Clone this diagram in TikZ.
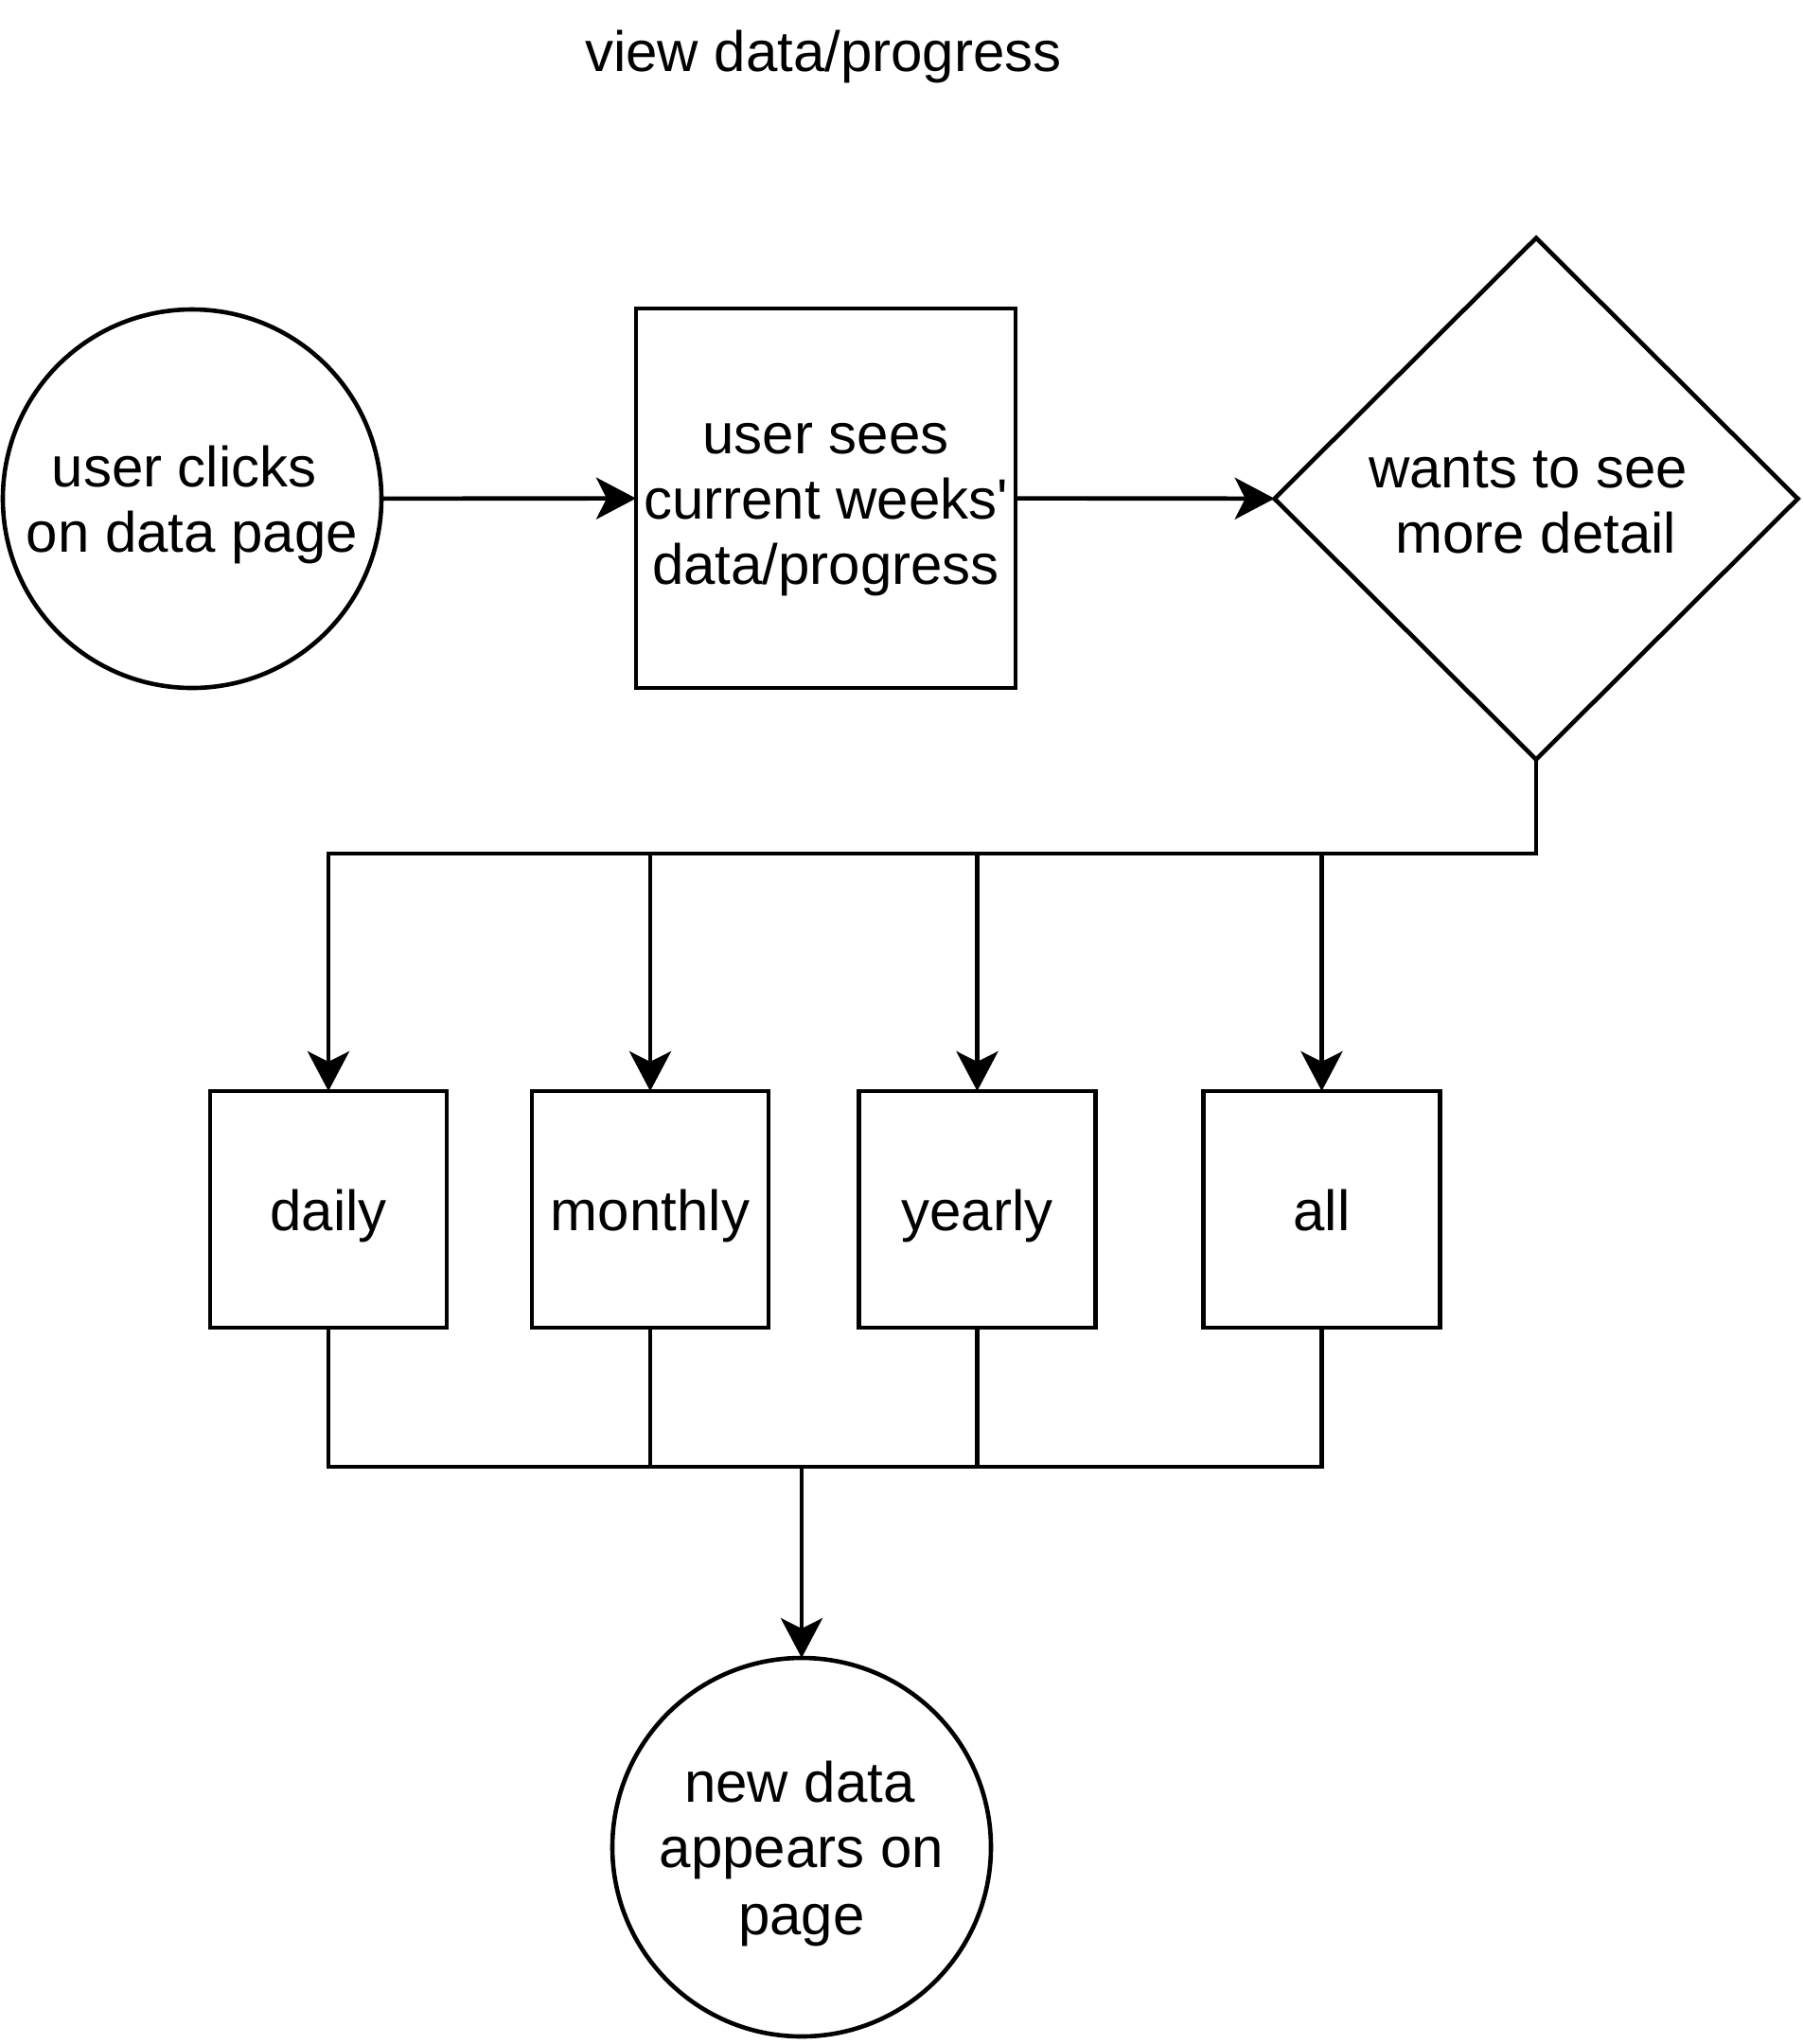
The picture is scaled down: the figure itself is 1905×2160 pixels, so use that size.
\documentclass[tikz,border=0pt]{standalone}
\usepackage{fontspec}
\setmainfont{Liberation Sans}
\usetikzlibrary{arrows.meta,shapes.geometric}
\newcommand{\lnstrut}{\rule[-6pt]{0pt}{34.5pt}}
\begin{document}
\begin{tikzpicture}[x=0.5pt,y=-0.5pt,
  every node/.style={font=\fontsize{30pt}{34.5pt}\selectfont, align=center, inner sep=0pt, outer sep=0pt},
  shp/.style={draw, line width=2.3pt, fill=white},
  roundnode/.style={shp, circle, minimum size=200pt},
  bigbox/.style={shp, rectangle, minimum size=200.5pt},
  smallbox/.style={shp, rectangle, minimum size=125pt},
  decision/.style={shp, diamond, minimum width=276.5pt, minimum height=275.5pt},
  conn/.style={line width=2.3pt},
  arr/.style={conn, -{Stealth[length=21pt, width=22pt, inset=5.5pt]}}]
\useasboundingbox (0,0) rectangle (1905,2160);
\node (title) at (870,53) {\lnstrut view data/progress};
\node[roundnode] (c1) at (203,527) {\lnstrut user clicks\hspace*{8.3pt}\\\lnstrut on data page};
\node[bigbox] (b1) at (872.5,526.5) {\lnstrut user sees\\\lnstrut current weeks\textquotesingle\\\lnstrut data/progress};
\node[decision] (d) at (1623,527) {\lnstrut wants to see\hspace*{8.3pt}\\\lnstrut more detail};
\node[smallbox] (daily) at (347,1278) {\lnstrut daily};
\node[smallbox] (monthly) at (687,1278) {\lnstrut monthly};
\node[smallbox] (yearly) at (1032.5,1278) {\lnstrut yearly};
\node[smallbox] (all) at (1396.5,1278) {\lnstrut all};
\node[roundnode] (c2) at (847,1952) {\lnstrut new data\hspace*{2pt}\\\lnstrut appears on\hspace*{2pt}\\\lnstrut page};
\coordinate (hub) at (1623,902);
\coordinate (bus) at (847,1550);
\draw[arr] (c1) -- (b1);
\draw[arr] (b1) -- (d);
\foreach \n in {daily,monthly,yearly,all}{
  \draw[arr] (d.south) -- (hub) -| (\n.north);
  \draw[conn] (\n.south) |- (bus);
}
\draw[arr] (bus) -- (c2.north);
\end{tikzpicture}
\end{document}
